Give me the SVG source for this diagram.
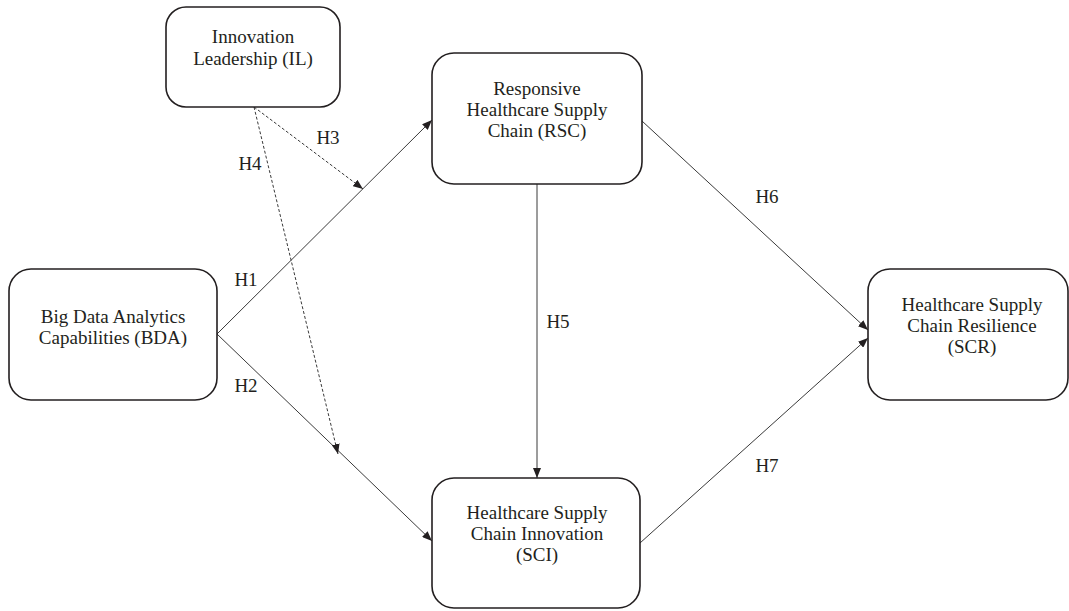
<svg xmlns="http://www.w3.org/2000/svg" width="1069" height="611" viewBox="0 0 1069 611">
<style>
.box{fill:#fff;stroke:#231f20;stroke-width:1.6}
.t{font-family:"Liberation Serif",serif;font-size:19px;fill:#231f20;text-anchor:middle}
.l{font-family:"Liberation Serif",serif;font-size:19px;fill:#231f20;text-anchor:middle}
.c{fill:none;stroke:#3a3a3a;stroke-width:1}
.d{fill:none;stroke:#3a3a3a;stroke-width:1;stroke-dasharray:3,2}
</style>
<defs>
<marker id="ah" viewBox="0 0 10 8" refX="10" refY="4" markerWidth="10" markerHeight="8" markerUnits="userSpaceOnUse" orient="auto">
<path d="M0,0 L10,4 L0,8 Z" fill="#231f20"/>
</marker>
</defs>
<rect width="1069" height="611" fill="#fff"/>
<g id="connectors">
<line class="c" x1="217" y1="334" x2="432" y2="120" marker-end="url(#ah)"/>
<line class="c" x1="217" y1="334" x2="432" y2="541" marker-end="url(#ah)"/>
<line class="d" x1="254" y1="107" x2="363" y2="189" marker-end="url(#ah)"/>
<line class="d" x1="254" y1="107" x2="338" y2="454" marker-end="url(#ah)"/>
<line class="c" x1="537" y1="184" x2="537" y2="478" marker-end="url(#ah)"/>
<line class="c" x1="642" y1="121" x2="868" y2="330" marker-end="url(#ah)"/>
<line class="c" x1="640" y1="543" x2="868" y2="338" marker-end="url(#ah)"/>
<text class="l" x="328" y="144">H3</text>
<text class="l" x="250" y="170">H4</text>
<text class="l" x="246" y="286">H1</text>
<text class="l" x="246" y="392">H2</text>
<text class="l" x="558" y="328">H5</text>
<text class="l" x="767" y="203">H6</text>
<text class="l" x="767" y="472">H7</text>
</g>
<g id="IL">
<rect class="box" x="166" y="7" width="174" height="100" rx="20"/>
<text class="t" x="253" y="43">Innovation</text>
<text class="t" x="253" y="65">Leadership (IL)</text>
</g>
<g id="RSC">
<rect class="box" x="432" y="53" width="210" height="131" rx="22"/>
<text class="t" x="537" y="95">Responsive</text>
<text class="t" x="537" y="116">Healthcare Supply</text>
<text class="t" x="537" y="137">Chain (RSC)</text>
</g>
<g id="BDA">
<rect class="box" x="9" y="269" width="208" height="131" rx="22"/>
<text class="t" x="113" y="323">Big Data Analytics</text>
<text class="t" x="113" y="344">Capabilities (BDA)</text>
</g>
<g id="SCI">
<rect class="box" x="432" y="478" width="208" height="130" rx="22"/>
<text class="t" x="537" y="519">Healthcare Supply</text>
<text class="t" x="537" y="540">Chain Innovation</text>
<text class="t" x="537" y="561">(SCI)</text>
</g>
<g id="SCR">
<rect class="box" x="868" y="269" width="200" height="131" rx="22"/>
<text class="t" x="972" y="311">Healthcare Supply</text>
<text class="t" x="972" y="332">Chain Resilience</text>
<text class="t" x="972" y="353">(SCR)</text>
</g>
</svg>
